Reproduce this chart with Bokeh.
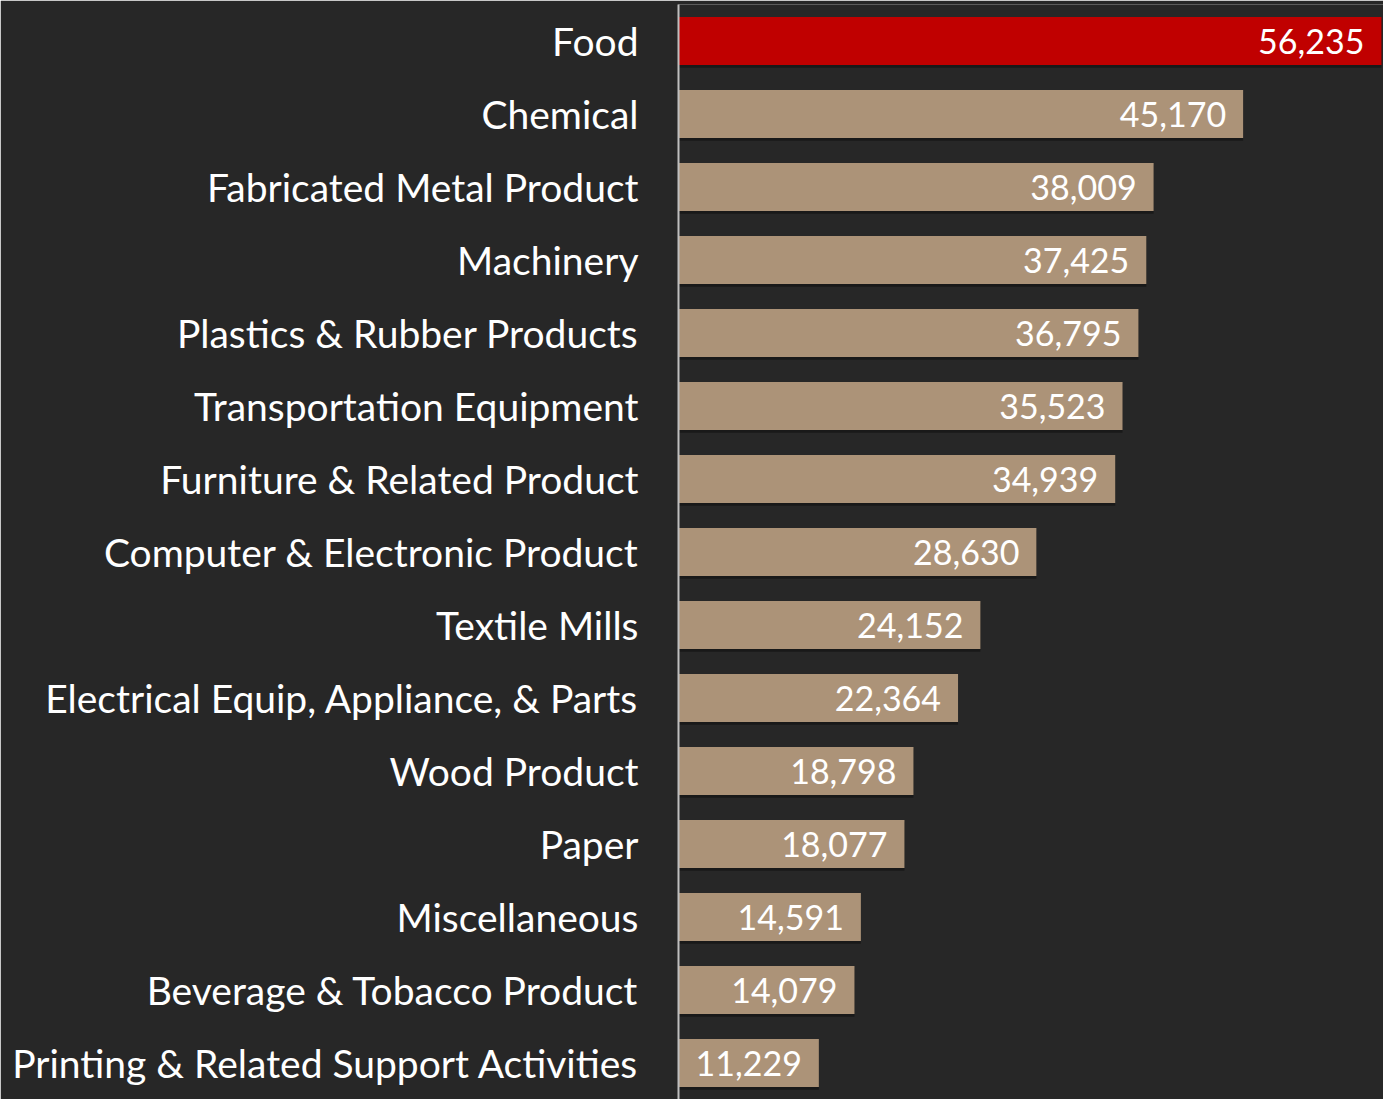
from bokeh.plotting import figure
from bokeh.models import Range1d, FactorRange, ColumnDataSource
from bokeh.transform import dodge
from bokeh.embed import file_html
from bokeh.resources import INLINE
from bokeh.core.properties import value

categories = ["Food", "Chemical", "Fabricated Metal Product", "Machinery",
              "Plastics & Rubber Products", "Transportation Equipment",
              "Furniture & Related Product", "Computer & Electronic Product",
              "Textile Mills", "Electrical Equip, Appliance, & Parts",
              "Wood Product", "Paper", "Miscellaneous",
              "Beverage & Tobacco Product", "Printing & Related Support Activities"]
values = [56235, 45170, 38009, 37425, 36795, 35523, 34939, 28630,
          24152, 22364, 18798, 18077, 14591, 14079, 11229]
highlight = ["Food"]

HIGHLIGHT_COLOR = "#c00000"
BAR_COLOR = "#ac9378"
BG = "#272727"
FONT = "Lato"

colors = [HIGHLIGHT_COLOR if c in highlight else BAR_COLOR for c in categories]
labels = [f"{v:,}" for v in values]

src = ColumnDataSource(dict(cat=categories, val=values, color=colors, label=labels))

p = figure(width=1383, height=1099, output_backend="svg", toolbar_location=None,
           y_range=FactorRange(factors=list(reversed(categories)), range_padding=0),
           x_range=Range1d(0, 56400),
           min_border_left=678, min_border_right=0, min_border_top=4, min_border_bottom=0)

p.background_fill_color = BG
p.border_fill_color = BG
p.outline_line_color = None
p.xgrid.visible = False
p.ygrid.visible = False
p.xaxis.visible = False

# soft drop shadow under each bar
p.hbar(y=dodge("cat", -0.035, range=p.y_range), right="val", left=0, height=0.66,
       source=src, fill_color="black", fill_alpha=0.35, line_color=None)

p.hbar(y="cat", right="val", left=0, height=0.66, source=src,
       fill_color="color", line_color=None)

p.text(x="val", y="cat", text="label", source=src, x_offset=-17,
       text_align="right", text_baseline="middle", text_color="white",
       text_font=value(FONT), text_font_size="34px")

ya = p.yaxis[0]
ya.axis_line_color = "#bfbfbf"
ya.axis_line_width = 2
ya.major_tick_line_color = None
ya.minor_tick_line_color = None
ya.major_tick_out = 0
ya.major_tick_in = 0
ya.major_label_standoff = 40
ya.major_label_text_color = "white"
ya.major_label_text_font = FONT
ya.major_label_text_font_size = "39px"
ya.major_label_text_font_style = "normal"

open("out.html", "w").write(file_html(p, INLINE))
